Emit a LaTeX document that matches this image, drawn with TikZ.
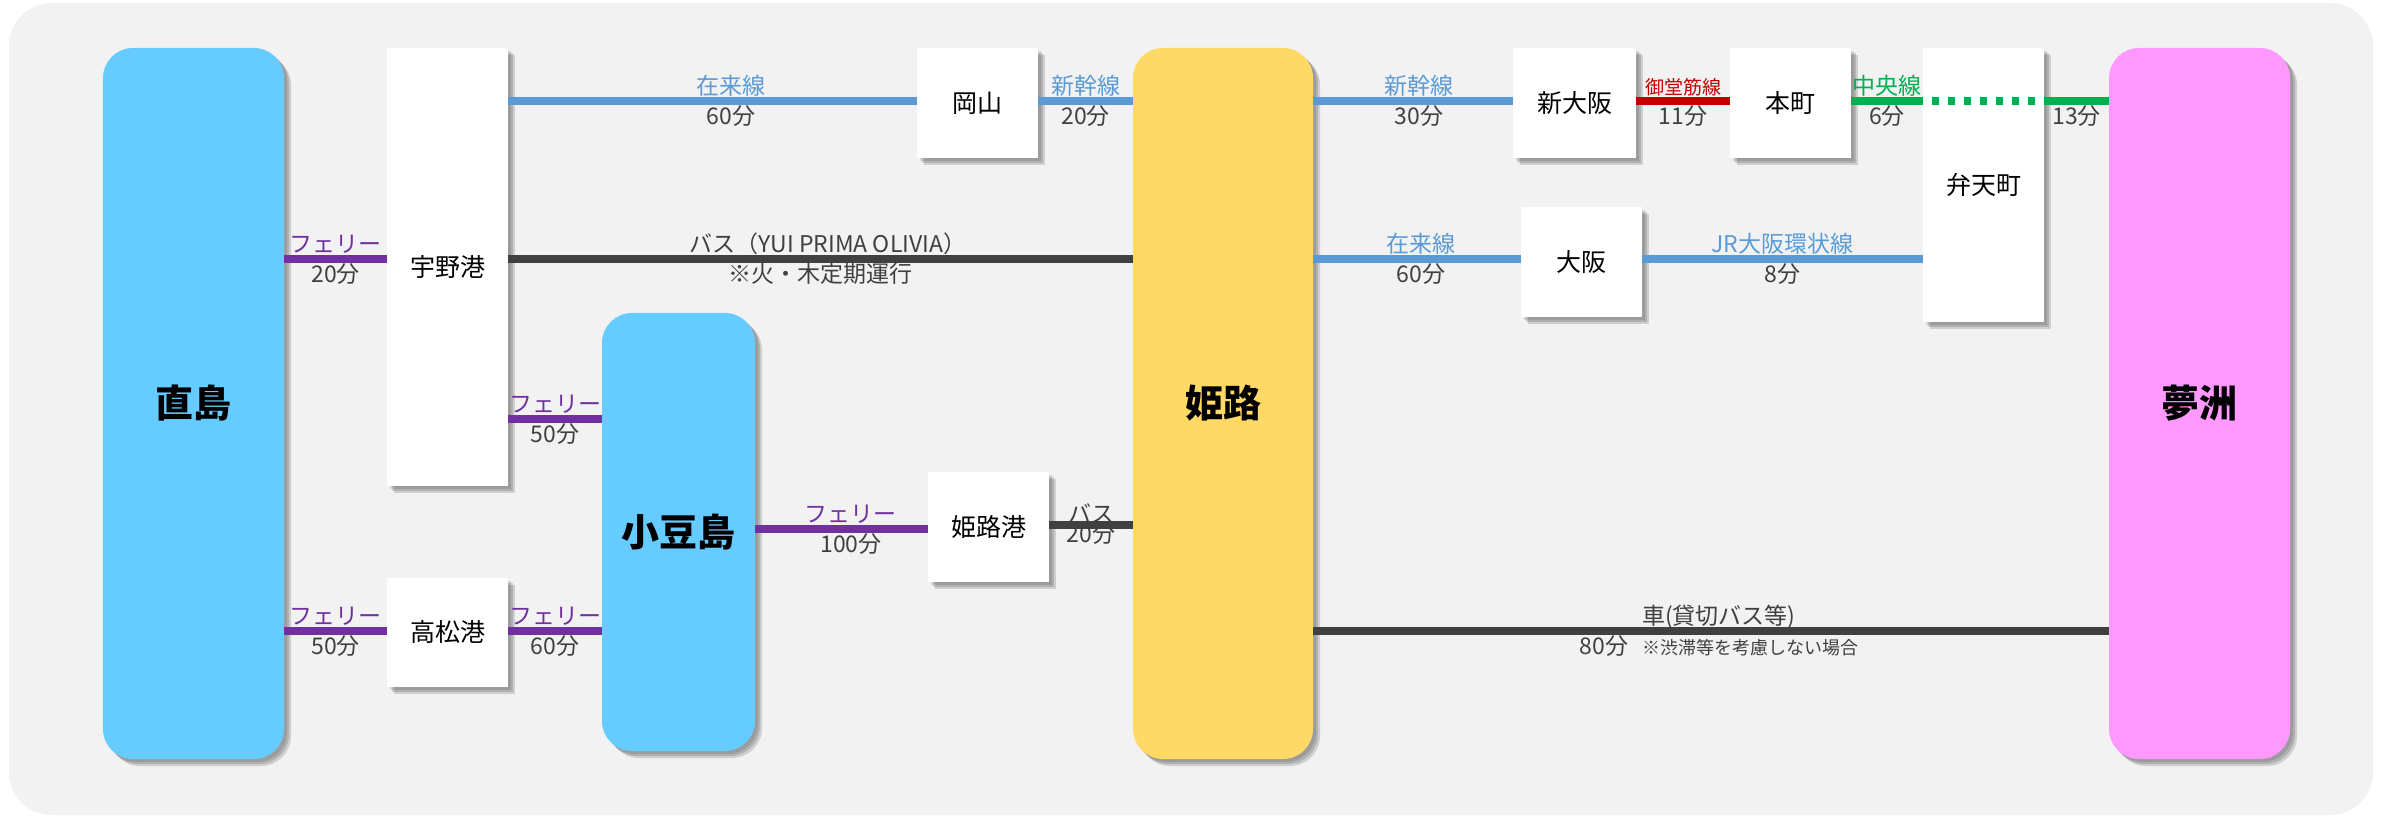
\documentclass[tikz,border=0pt]{standalone}
\usepackage{fontspec}
\setmainfont{Noto Sans CJK JP}
\usetikzlibrary{shadows,calc}
\definecolor{bgc}{HTML}{F2F2F2}
\definecolor{islc}{HTML}{66CCFF}
\definecolor{himc}{HTML}{FFD966}
\definecolor{yumc}{HTML}{FF99FF}
\definecolor{ferryc}{HTML}{7030A0}
\definecolor{bluec}{HTML}{5B9BD5}
\definecolor{darkc}{HTML}{404040}
\definecolor{redc}{HTML}{C00000}
\definecolor{greenc}{HTML}{00B050}
\begin{document}
\begin{tikzpicture}[x=0.5bp,y=-0.5bp,
  shd/.style={
    drop shadow={shadow xshift=1.5bp,shadow yshift=-1.5bp,opacity=0.12,fill=black},
    drop shadow={shadow xshift=2.5bp,shadow yshift=-2.5bp,opacity=0.14,fill=black},
    drop shadow={shadow xshift=3.5bp,shadow yshift=-3.5bp,opacity=0.14,fill=black}},
  wbox/.style={shd, fill=white, draw=none, inner sep=0, minimum width=60.5bp, minimum height=55bp,
    font=\fontsize{12.5bp}{14bp}\selectfont, text=black},
  bigbox/.style={shd, draw=none, inner sep=0, rounded corners=15bp, minimum width=90.5bp, minimum height=355.5bp,
    font=\fontsize{19bp}{22bp}\selectfont\bfseries, text=black},
  conn/.style={line width=4bp},
  lnferry/.style={conn, draw=ferryc},
  lnblue/.style={conn, draw=bluec},
  lndark/.style={conn, draw=darkc},
  lnred/.style={conn, draw=redc},
  lngreen/.style={conn, draw=greenc},
  lab/.style={inner sep=0, font=\fontsize{11.5bp}{13bp}\selectfont, text height=0.88em, text depth=0.12em, text=darkc},
  labA/.style={lab, yshift=7bp},
  labB/.style={lab, yshift=-8bp},
  tferry/.style={text=ferryc},
  tblue/.style={text=bluec},
  tred/.style={text=redc, font=\fontsize{9.5bp}{11bp}\selectfont},
  tgreen/.style={text=greenc},
]
\fill[white] (0,0) rectangle (2386,816);
\useasboundingbox (0,0) rectangle (2386,816);
\fill[bgc, rounded corners=21.5bp] (9,3) rectangle (2373,815);

\coordinate (yA) at (0,101);
\coordinate (yB) at (0,259);
\coordinate (yC) at (0,419);
\coordinate (yD) at (0,529);
\coordinate (yE) at (0,525);
\coordinate (yF) at (0,631);

% big boxes
\node[bigbox, fill=islc] (naoshima) at (193.5,403.5) {直島};
\node[bigbox, fill=islc, minimum width=76.5bp, minimum height=219bp] (shodo) at (678.5,532) {小豆島};
\node[bigbox, fill=himc, minimum width=90bp] (himeji) at (1223,403.5) {姫路};
\node[bigbox, fill=yumc] (yume) at (2199.5,403.5) {夢洲};

% white boxes
\node[wbox, minimum height=219bp] (uno) at (447.5,267) {宇野港};
\node[wbox, minimum height=54.5bp] (taka) at (447.5,632.5) {高松港};
\node[wbox] (okayama) at (977.5,103) {岡山};
\node[wbox] (hport) at (988.5,527) {姫路港};
\node[wbox, minimum width=61.5bp] (shinosaka) at (1574.5,103) {新大阪};
\node[wbox] (osaka) at (1581.5,262) {大阪};
\node[wbox] (honmachi) at (1790.5,103) {本町};
\node[wbox, minimum height=137bp] (benten) at (1983.5,185) {弁天町};

% ferries
\draw[lnferry] (naoshima.east |- yB) -- node[labA,tferry]{フェリー} node[labB]{20分} (uno.west |- yB);
\draw[lnferry] (uno.east |- yC) -- node[labA,tferry]{フェリー} node[labB]{50分} (shodo.west |- yC);
\draw[lnferry] (naoshima.east |- yF) -- node[labA,tferry]{フェリー} node[labB]{50分} (taka.west |- yF);
\draw[lnferry] (taka.east |- yF) -- node[labA,tferry]{フェリー} node[labB]{60分} (shodo.west |- yF);
\draw[lnferry] (shodo.east |- yD) -- node[labA,tferry,pos=.555]{フェリー} node[labB,pos=.555]{100分} (hport.west |- yD);
\draw[lndark] (hport.east |- yE) -- node[labA,yshift=-2bp]{バス} node[labB,yshift=3bp]{20分} (himeji.west |- yE);

% trains / bus west of Himeji
\draw[lnblue] (uno.east |- yA) -- node[labA,tblue,pos=.545]{在来線} node[labB,pos=.545]{60分} (okayama.west |- yA);
\draw[lnblue] (okayama.east |- yA) -- node[labA,tblue]{新幹線} node[labB]{20分} (himeji.west |- yA);
\draw[lndark] (uno.east |- yB) -- node[labA,pos=.512]{バス（YUI PRIMA OLIVIA）} node[labB]{※火・木定期運行} (himeji.west |- yB);

% east of Himeji
\draw[lnblue] (himeji.east |- yA) -- node[labA,tblue,pos=.53]{新幹線} node[labB,pos=.53]{30分} (shinosaka.west |- yA);
\draw[lnblue] (himeji.east |- yB) -- node[labA,tblue,pos=.52]{在来線} node[labB,pos=.52]{60分} (osaka.west |- yB);
\draw[lnred] (shinosaka.east |- yA) -- node[labA,tred]{御堂筋線} node[labB]{11分} (honmachi.west |- yA);
\draw[lngreen] (honmachi.east |- yA) -- node[labA,tgreen]{中央線} node[labB]{6分} (benten.west |- yA);
\draw[lngreen, dash pattern=on 3.5bp off 4.5bp, dash phase=3.5bp] (benten.west |- yA) -- (benten.east |- yA);
\draw[lngreen] (benten.east |- yA) -- node[labB]{13分} (yume.west |- yA);
\draw[lnblue] (osaka.east |- yB) -- node[labA,tblue]{JR大阪環状線} node[labB]{8分} (benten.west |- yB);
\draw[lndark] (himeji.east |- yF) -- node[labA,pos=.51]{車(貸切バス等)}
  node[labB,pos=.51]{80分\hspace{7bp}{\fontsize{9bp}{10bp}\selectfont ※渋滞等を考慮しない場合}} (yume.west |- yF);
\end{tikzpicture}
\end{document}
